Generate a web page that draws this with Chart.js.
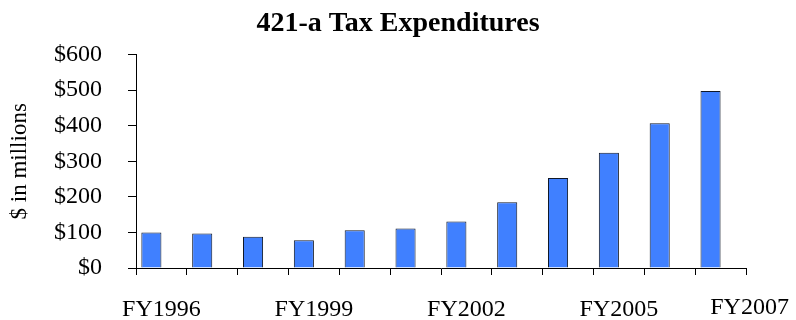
<!DOCTYPE html>
<html>
<head>
<meta charset="utf-8">
<script src="https://cdn.jsdelivr.net/npm/chart.js@4/dist/chart.umd.min.js"></script>
<style>
	html, body { margin: 0; padding: 0; background: #fff; }
	#wrap { width: 796px; height: 320px; }
</style>
</head>
<body>
<div id="wrap"><canvas id="chart"></canvas></div>
<script>
'use strict';
// fiscal years on the category axis
var years = ["FY1996","FY1997","FY1998","FY1999","FY2000","FY2001","FY2002","FY2003","FY2004","FY2005","FY2006","FY2007"];
// 421-a tax expenditures, $ in millions
var expenditures = [100, 97, 88, 78, 106, 111, 131, 185, 253, 324, 407, 498];
// second (empty) series of the original sheet, keeps bars at the left of each slot
var emptySeries = [null, null, null, null, null, null, null, null, null, null, null, null];
// only these year labels are printed under the axis
var shownYears = ["FY1996", "FY1999", "FY2002", "FY2005", "FY2007"];
var yTicks = [0, 100, 200, 300, 400, 500, 600];

(function(){
	var serif = "'Liberation Serif', 'Times New Roman', serif";
	Chart.defaults.font.family = serif;
	Chart.defaults.color = '#000';
	var lastIdx = years.length - 1;

	// the original puts the last year label a bit right of (and above) its slot
	var lastLabel = {
		id: 'lastLabel',
		afterDraw: function(chart){
			var x = chart.scales.x;
			var c = chart.ctx;
			c.save();
			c.font = '24px ' + serif;
			c.fillStyle = '#000';
			c.textAlign = 'center';
			c.textBaseline = 'top';
			c.fillText(years[lastIdx], x.getPixelForValue(lastIdx) + 29, x.top + 28);
			c.restore();
		}
	};

	var ctx = document.getElementById('chart').getContext('2d');
	new Chart(ctx, {
		type: 'bar',
		data: {
			labels: years,
			datasets: [
				{
					label: '421-a',
					data: expenditures,
					backgroundColor: '#4080ff',
					borderColor: '#101828',
					borderWidth: 1,
					categoryPercentage: 0.79,
					barPercentage: 1
				},
				{
					label: 'empty',
					data: emptySeries,
					backgroundColor: '#4080ff',
					categoryPercentage: 0.79,
					barPercentage: 1
				}
			]
		},
		plugins: [lastLabel],
		options: {
			responsive: true,
			maintainAspectRatio: false,
			animation: false,
			layout: { padding: { top: 7, right: 0, left: 0, bottom: 0 } },
			plugins: {
				legend: { display: false },
				tooltip: { enabled: false },
				title: {
					display: true,
					text: '421-a Tax Expenditures',
					font: { size: 28, weight: 'bold', family: serif },
					color: '#000',
					padding: { top: 0, bottom: 14 }
				}
			},
			scales: {
				x: {
					grid: { offset: true, drawOnChartArea: false, tickLength: 7, color: '#000' },
					border: { color: '#000', width: 1 },
					ticks: {
						autoSkip: false,
						maxRotation: 0,
						padding: 20,
						font: { size: 24 },
						callback: function(val, i){
							var name = years[i];
							if (i === lastIdx || shownYears.indexOf(name) < 0) return '';
							return name;
						}
					},
					afterFit: function(s){ s.height = 52; }
				},
				y: {
					min: 0,
					max: 600,
					grid: { drawOnChartArea: false, tickLength: 8, color: '#000' },
					border: { color: '#000', width: 1 },
					afterBuildTicks: function(s){
						s.ticks = yTicks.map(function(v){ return { value: v }; });
					},
					ticks: {
						padding: 26,
						font: { size: 24 },
						callback: function(v){ return '$' + v; }
					},
					title: {
						display: true,
						text: '$ in millions',
						font: { size: 23 },
						padding: { top: 6, bottom: 4 }
					},
					afterFit: function(s){ s.width = 136; }
				},
				// blank right margin, so the title stays centred on the page
				spacer: {
					type: 'linear',
					position: 'right',
					display: true,
					grid: { display: false },
					border: { display: false },
					ticks: { display: false },
					afterFit: function(s){ s.width = 50; }
				}
			}
		}
	});
})();
</script>
</body>
</html>
